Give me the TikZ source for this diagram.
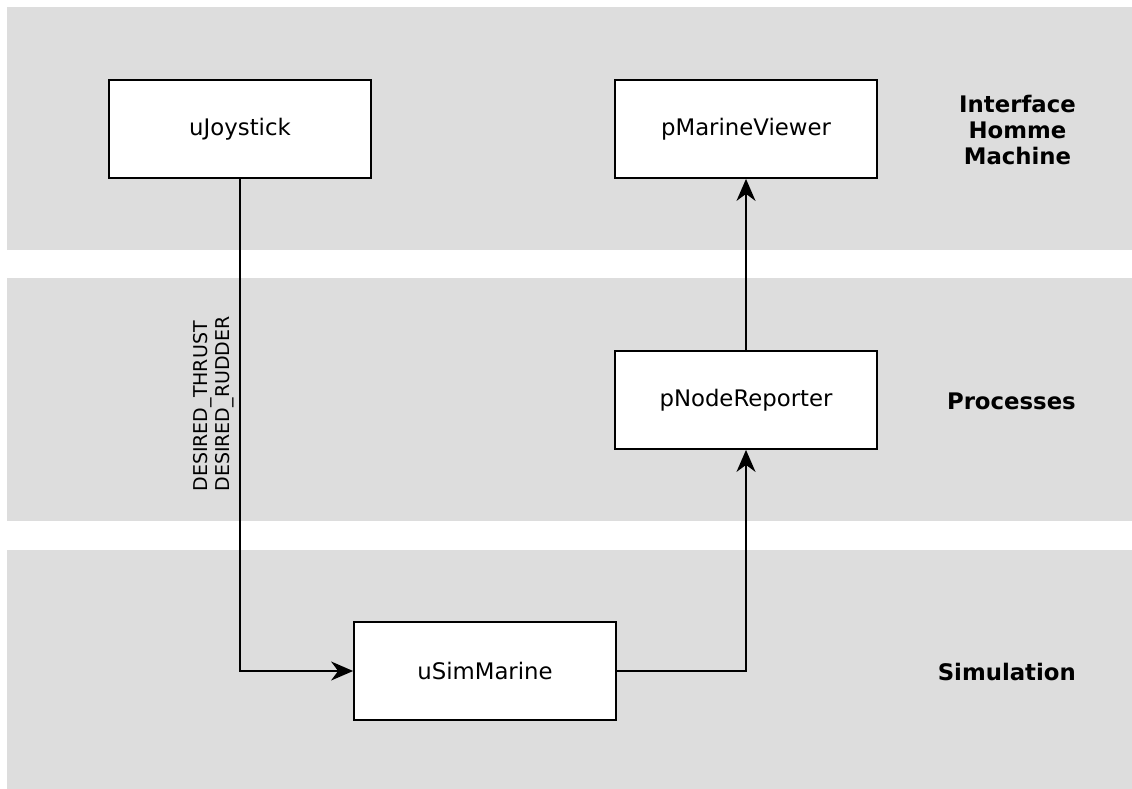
\documentclass[tikz,border=0pt]{standalone}
\usepackage{fontspec}
\setmainfont{DejaVu Sans}
\usetikzlibrary{arrows.meta,positioning}
\definecolor{bandgrey}{HTML}{DDDDDD}
\tikzset{
	band/.style={fill=bandgrey, draw=none},
	module/.style={draw=black, fill=white, line width=1.8pt,
		minimum width=262pt, minimum height=98pt, inner sep=0pt,
		font=\fontsize{22.8}{26}\selectfont},
	layer/.style={font=\bfseries\fontsize{22.8}{26}\selectfont,
		align=center, anchor=east, inner sep=0pt},
	flow/.style={line width=1.6pt, -{Stealth[length=22pt,width=19pt,inset=7pt]}},
	varlabel/.style={font=\fontsize{19}{22}\selectfont, align=left,
		rotate=90, anchor=south, inner sep=0pt}
}

\begin{document}
\begin{tikzpicture}[x=1pt, y=-1pt]
	\useasboundingbox (0,0) rectangle (1132,789);

	% layers
	\fill[band] (7,7) rectangle (1132,250);
	\fill[band] (7,278) rectangle (1132,521);
	\fill[band] (7,550) rectangle (1132,789);

	\node[layer] (ihm) at (1076,130) {Interface\\Homme\\Machine};
	\node[layer] (proc) at (1076,401) {Processes};
	\node[layer] (simu) at (1076,672) {Simulation};

	% modules
	\node[module] (joystick) at (240,129) {\raisebox{-2pt}{uJoystick}};
	\node[module] (viewer) at (746,129) {\raisebox{-2pt}{pMarineViewer}};
	\node[module] (reporter) at (746,400) {\raisebox{-2pt}{pNodeReporter}};
	\node[module] (simmarine) at (485,671) {\raisebox{-2pt}{uSimMarine}};

	% messages
	\draw[flow] (joystick.south) |- (simmarine.west);
	\draw[flow] (simmarine.east) -| (reporter.south);
	\draw[flow] (reporter.north) -- (viewer.south);

	\node[varlabel] (desired) at (234,404) {DESIRED\_THRUST\\DESIRED\_RUDDER};

\end{tikzpicture}
\end{document}
